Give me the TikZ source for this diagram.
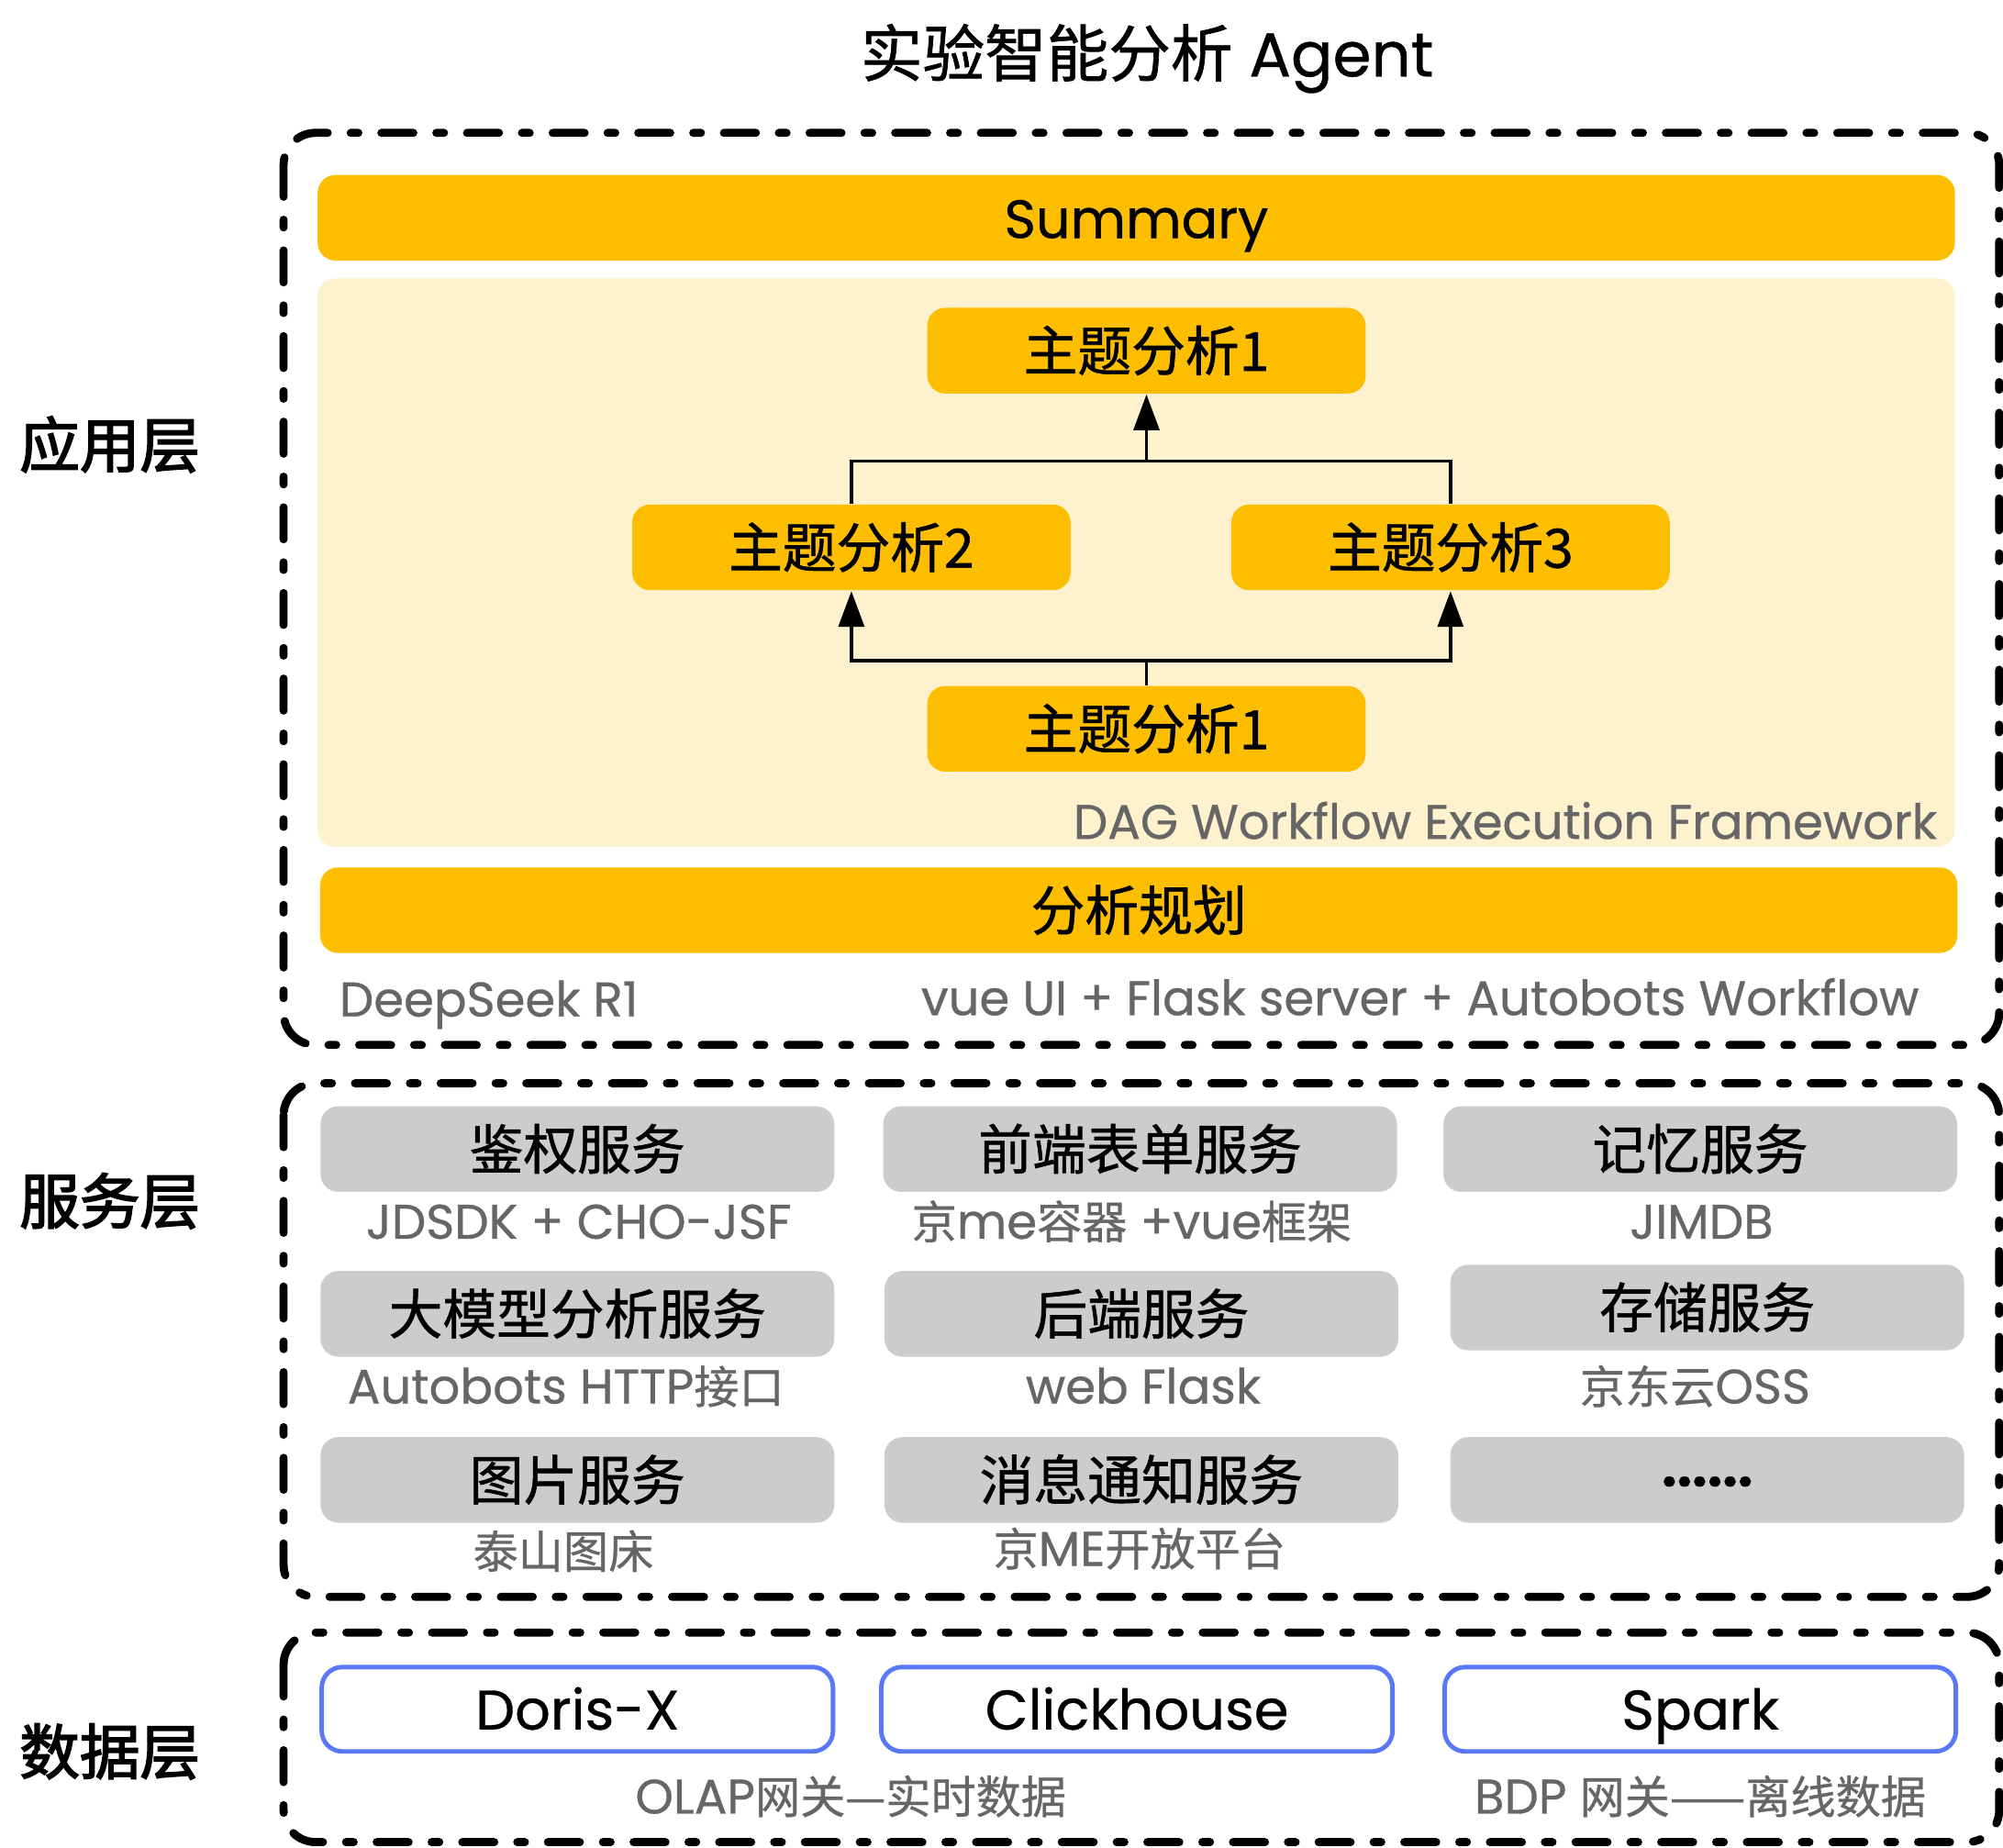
\documentclass[tikz,border=0pt]{standalone}
\usepackage{fontspec}
\setmainfont{Poppins}[FakeBold=0.6]
\newfontfamily\cjk{Noto Sans CJK SC}[FakeBold=1]
\newfontfamily\cjksub{Noto Sans CJK SC}[Scale=0.93,FakeBold=0.6]
\newfontfamily\cjkhead{Noto Sans CJK SC}[FakeBold=2.5]
\usetikzlibrary{arrows.meta}
\definecolor{gold}{HTML}{FDBE00}
\definecolor{cream}{HTML}{FEF1CE}
\definecolor{lgray}{HTML}{CCCCCC}
\definecolor{tgray}{HTML}{666666}
\definecolor{dblue}{HTML}{5878F8}

\begin{document}
\begin{tikzpicture}[x=0.01cm,y=-0.01cm,
  layer/.style={draw=black,line width=1.8pt,line cap=round,rounded corners=0.25cm,
    dash pattern=on 0.25cm off 0.18cm on 0.06cm off 0.18cm},
  ybox/.style={rectangle,fill=gold,rounded corners=0.14cm,minimum height=0.67cm,
    text height=0.9em,text depth=0pt,font=\fontsize{12pt}{14pt}\selectfont},
  gbox/.style={rectangle,fill=lgray,rounded corners=0.14cm,minimum width=4.02cm,
    minimum height=0.67cm,text height=0.9em,text depth=0pt,font=\fontsize{12pt}{14pt}\selectfont},
  dbox/.style={rectangle,draw=dblue,line width=1pt,fill=white,rounded corners=0.16cm,
    minimum width=4.0cm,minimum height=0.66cm,text height=0.9em,text depth=0pt,
    font=\fontsize{12.4pt}{14pt}\selectfont},
  sub/.style={text=tgray,font=\fontsize{10.8pt}{13pt}\selectfont,inner sep=0pt,
    text height=0.72em,text depth=0pt},
  side/.style={font=\fontsize{13.4pt}{16pt}\selectfont\cjkhead,text height=0.9em,text depth=0pt},
  arr/.style={-{Triangle[length=0.28cm,width=0.2cm]},line width=0.75pt}]
\useasboundingbox (0,0) rectangle (1568,1446);

% title and layer names
\node[font=\fontsize{13.8pt}{16pt}\selectfont,text height=0.9em,text depth=0pt] (title) at (898,44) {{\cjk 实验智能分析} Agent};
\node[side] (lapp) at (86,350) {应用层};
\node[side] (lsvc) at (86,942) {服务层};
\node[side] (ldata) at (86,1373) {数据层};

% application layer
\draw[layer] (222,104) rectangle (1565,818);
\node[ybox,minimum width=12.81cm] (summary) at (889.5,170.5) {Summary};
\node[rectangle,fill=cream,rounded corners=0.14cm,minimum width=12.81cm,minimum height=4.45cm] (dag) at (889.5,440.5) {};
\node[ybox,minimum width=3.43cm] (topicA) at (897.5,274.5) {\cjk 主题分析1};
\node[ybox,minimum width=3.43cm] (topicB) at (666.5,428.5) {\cjk 主题分析2};
\node[ybox,minimum width=3.43cm] (topicC) at (1135.5,428.5) {\cjk 主题分析3};
\node[ybox,minimum width=3.43cm] (topicD) at (897.5,570.5) {\cjk 主题分析1};
\node[sub,anchor=east] (daglbl) at (1517,644) {DAG Workflow Execution Framework};
\node[ybox,minimum width=12.81cm] (plan) at (891.5,712.5) {\cjk 分析规划};
\node[sub,anchor=west] (model) at (265,783) {DeepSeek R1};
\node[sub,anchor=east] (stack) at (1503,782) {vue UI + Flask server + Autobots Workflow};

% DAG edges
\draw[line width=0.75pt] (topicD.north) -- ++(0,-19) coordinate (fork);
\draw[arr] (fork) -| (topicB.south);
\draw[arr] (fork) -| (topicC.south);
\coordinate (merge) at (topicA.south |- 0,361);
\draw[line width=0.75pt] (topicB.north) |- (merge) -| (topicC.north);
\draw[arr] (merge) -- (topicA.south);

% service layer
\draw[layer] (222,848) rectangle (1565,1250);
\node[gbox] (auth) at (452,899.5) {\cjk 鉴权服务};
\node[gbox] (form) at (892.5,899.5) {\cjk 前端表单服务};
\node[gbox] (memo) at (1331,899.5) {\cjk 记忆服务};
\node[sub] (authsub) at (453,957) {JDSDK + CHO-JSF};
\node[sub] (formsub) at (886,957) {{\cjksub 京}me{\cjksub 容器} +vue{\cjksub 框架}};
\node[sub] (memosub) at (1332,957) {JIMDB};
\node[gbox] (llm) at (452,1028.5) {\cjk 大模型分析服务};
\node[gbox] (back) at (893.5,1028.5) {\cjk 后端服务};
\node[gbox] (store) at (1336.5,1023.5) {\cjk 存储服务};
\node[sub] (llmsub) at (443,1086) {Autobots HTTP{\cjksub 接口}};
\node[sub] (backsub) at (895,1086) {web Flask};
\node[sub] (storesub) at (1327,1086) {{\cjksub 京东云}OSS};
\node[gbox] (img) at (452,1158.5) {\cjk 图片服务};
\node[gbox] (msg) at (893.5,1158.5) {\cjk 消息通知服务};
\node[gbox] (more) at (1336.5,1158.5) {\bfseries\raisebox{0.26em}{......}};
\node[sub] (imgsub) at (441,1215) {\cjksub 泰山图床};
\node[sub] (msgsub) at (892,1213) {{\cjksub 京}ME{\cjksub 开放平台}};

% data layer
\draw[layer] (222,1278) rectangle (1565,1442);
\node[dbox] (doris) at (452,1338) {Doris-X};
\node[dbox] (click) at (890,1338) {Clickhouse};
\node[dbox] (spark) at (1331,1338) {Spark};
\node[sub] (olap) at (666,1407) {OLAP{\cjksub 网关—实时数据}};
\node[sub] (bdp) at (1331,1407) {BDP {\cjksub 网关——离线数据}};
\end{tikzpicture}
\end{document}
